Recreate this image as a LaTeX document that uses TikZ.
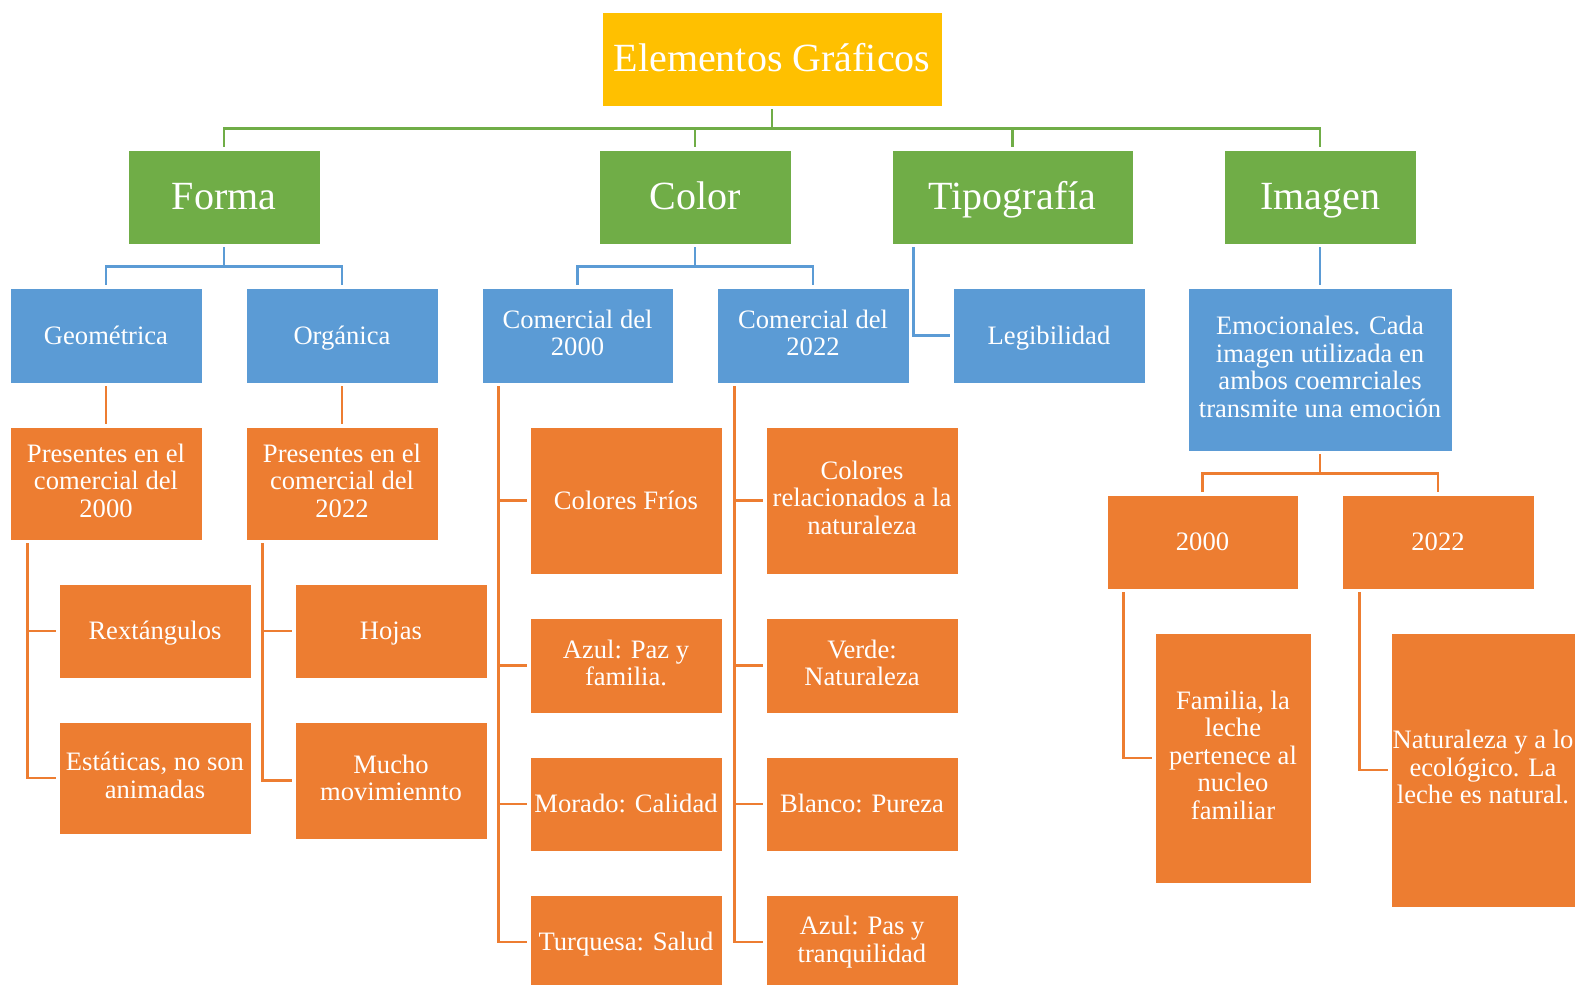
\documentclass[tikz,border=0pt]{standalone}
\usepackage{fontspec}
\setmainfont{Liberation Serif}
\definecolor{cgold}{HTML}{FFC000}
\definecolor{cgreen}{HTML}{70AD47}
\definecolor{cblue}{HTML}{5B9BD5}
\definecolor{corange}{HTML}{ED7D31}
\newcommand\mystrut{\vrule width 0pt height 0.86em depth 0.216em\relax}
\newcommand\mymlstrut{\vrule width 0pt height \dimexpr0.86em+4pt\relax depth 0.216em\relax}
\newcommand\smallbxfont{\fontsize{26.6}{27.5}\selectfont\lineskiplimit=-100pt\relax}
\newcommand\bigbxfont{\fontsize{40}{44}\selectfont\lineskiplimit=-100pt\relax}
\begin{document}
\begin{tikzpicture}[x=1pt,y=-1pt,
  bx/.style={rectangle, draw=white, line width=0.8pt, text=white, align=center, inner sep=0pt,
    font=\smallbxfont,
    execute at begin node=\mystrut, execute at end node=\mystrut},
  ml/.style={execute at begin node=\mymlstrut},
  big/.style={bx, font=\bigbxfont},
  sz/.style 2 args={minimum width=#1, minimum height=#2},
  conn/.style={line width=2.5pt, line join=miter, shorten <=3pt, shorten >=3pt},
  gbox/.style={fill=cgreen},
  bbox/.style={fill=cblue},
  obox/.style={fill=corange}]
\useasboundingbox (0,0) rectangle (1575,985);
\fill[white] (0,0) rectangle (1575,985);

% top
\node[big, fill=cgold, sz={340}{94}] (top) at (772,59) {Elementos Gráficos};
% level 1
\node[big, gbox, sz={192}{94}] (forma) at (224,197) {Forma};
\node[big, gbox, sz={192}{94}] (color) at (695,197) {Color};
\node[big, gbox, sz={241}{94}] (tipo) at (1012.5,197) {Tipografía};
\node[big, gbox, sz={192}{94}] (imagen) at (1320,197) {Imagen};
% level 2
\node[bx, bbox, sz={192}{95}] (geom) at (106,335.5) {Geométrica};
\node[bx, bbox, sz={192}{95}] (org) at (342,335.5) {Orgánica};
\node[bx, ml, bbox, sz={191}{95}] (com00) at (577.5,335.5) {Comercial del\\2000};
\node[bx, ml, bbox, sz={192}{95}] (com22) at (813,335.5) {Comercial del\\2022};
\node[bx, bbox, sz={192}{95}] (legib) at (1049,335.5) {Legibilidad};
\node[bx, ml, bbox, sz={264}{163}] (emoc) at (1320,369.5) {Emocionales. Cada\\imagen utilizada en\\ambos coemrciales\\transmite una emoción};
% forma children
\node[bx, ml, obox, sz={192}{113}] (pres00) at (106,483.5) {Presentes en el\\comercial del\\2000};
\node[bx, ml, obox, sz={192}{113}] (pres22) at (342,483.5) {Presentes en el\\comercial del\\2022};
\node[bx, obox, sz={192}{94}] (rext) at (155,631) {Rextángulos};
\node[bx, ml, obox, sz={192}{112}] (estat) at (155,778) {Estáticas, no son\\animadas};
\node[bx, obox, sz={192}{94}] (hojas) at (391,631) {Hojas};
\node[bx, ml, obox, sz={192}{117}] (mucho) at (391,780.5) {Mucho\\movimiennto};
% color children
\node[bx, obox, sz={192}{147}] (frios) at (626,500.5) {Colores Fríos};
\node[bx, ml, obox, sz={192}{95}] (azul1) at (626,665.5) {Azul: Paz y\\familia.};
\node[bx, obox, sz={192}{94}] (morado) at (626,804) {Morado: Calidad};
\node[bx, obox, sz={192}{94}] (turq) at (626,942) {Turquesa: Salud};
\node[bx, ml, obox, sz={192}{147}] (relac) at (862,500.5) {Colores\\relacionados a la\\naturaleza};
\node[bx, ml, obox, sz={192}{95}] (verde) at (862,665.5) {Verde:\\Naturaleza};
\node[bx, obox, sz={192}{94}] (blanco) at (862,804) {Blanco: Pureza};
\node[bx, ml, obox, sz={192}{94}] (azul2) at (862,942) {Azul: Pas y\\tranquilidad};
% imagen children
\node[bx, obox, sz={191}{94}] (y00) at (1202.5,542) {2000};
\node[bx, obox, sz={192}{94}] (y22) at (1438,542) {2022};
\node[bx, ml, obox, sz={156}{250}] (fam) at (1233,758) {Familia, la\\leche\\pertenece al\\nucleo\\familiar};
\node[bx, ml, obox, sz={184}{274}] (nat) at (1483,770) {Naturaleza y a lo\\ecológico. La\\leche es natural.};

% green connectors
\foreach \c in {forma,color,tipo,imagen}
  \draw[conn, cgreen] (top.south) -- ++(0,22) -| (\c.north);
% blue connectors
\foreach \c in {geom,org}
  \draw[conn, cblue] (forma.south) -- ++(0,22) -| (\c.north);
\foreach \c in {com00,com22}
  \draw[conn, cblue] (color.south) -- ++(0,22) -| (\c.north);
\draw[conn, cblue] ([xshift=22pt]tipo.south west) |- (legib.west);
\draw[conn, cblue] (imagen.south) -- (emoc.north);
% orange connectors
\draw[conn, corange] (geom.south) -- (pres00.north);
\draw[conn, corange] (org.south) -- (pres22.north);
\foreach \c in {rext,estat}
  \draw[conn, corange] ([xshift=18pt]pres00.south west) |- (\c.west);
\foreach \c in {hojas,mucho}
  \draw[conn, corange] ([xshift=17pt]pres22.south west) |- (\c.west);
\foreach \c in {frios,azul1,morado,turq}
  \draw[conn, corange] ([xshift=17pt]com00.south west) |- (\c.west);
\foreach \c in {relac,verde,blanco,azul2}
  \draw[conn, corange] ([xshift=18pt]com22.south west) |- (\c.west);
\foreach \c in {y00,y22}
  \draw[conn, corange] (emoc.south) -- ++(0,22) -| (\c.north);
\draw[conn, corange] ([xshift=17pt]y00.south west) |- (fam.west);
\draw[conn, corange] ([xshift=18pt]y22.south west) |- (nat.west);
\end{tikzpicture}
\end{document}
